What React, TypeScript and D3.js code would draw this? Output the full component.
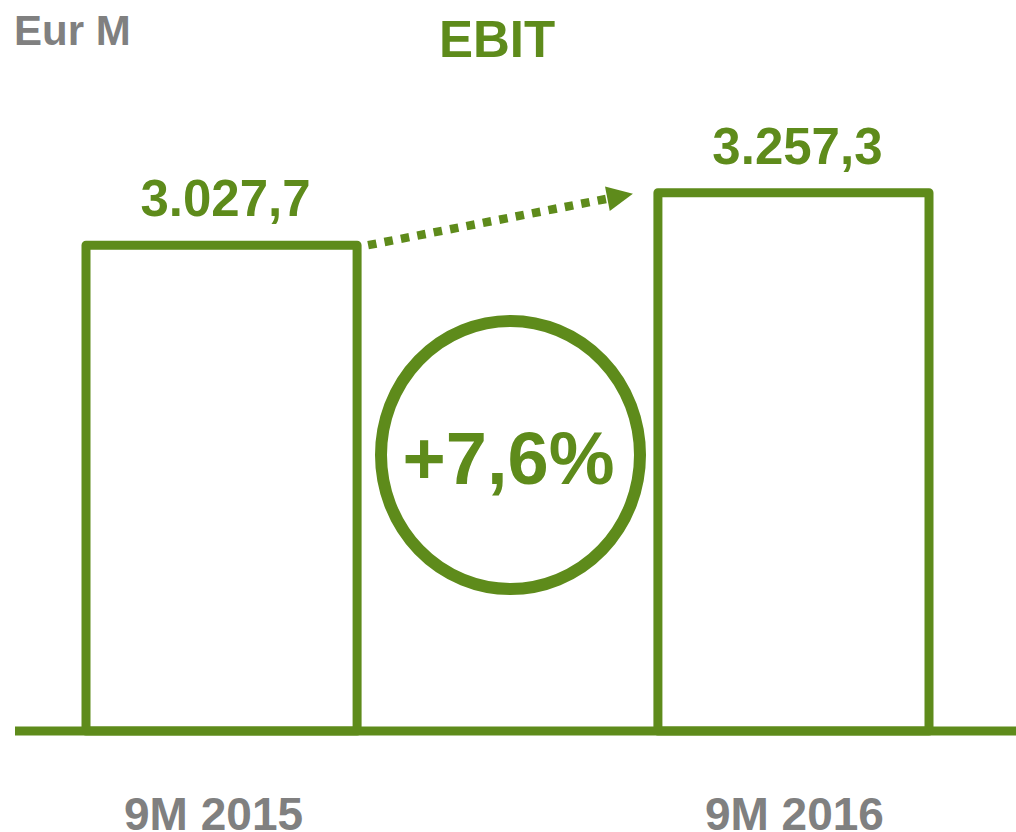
import React, { useRef, useEffect } from "react";
import * as d3 from "d3";

const categories = ["9M 2015", "9M 2016"];
const ebitValues = [3027.7, 3257.3];
const unitLabel = "Eur M";
const chartTitle = "EBIT";

const GREEN = "#5e8b1b";
const GREY = "#808080";
const FONT = "'Liberation Sans', Arial, sans-serif";

const App = () => {
  const svgRef = useRef<SVGSVGElement>(null);

  var width = 1016;
  var height = 832;

  useEffect(() => {
    var svg = d3.select(svgRef.current);
    svg.selectAll("*").remove();

    // italian style numbers: 3.027,7
    var it = d3.formatLocale({ decimal: ",", thousands: ".", grouping: [3], currency: ["€", ""] });
    var fmt = it.format(",.1f");

    var x = d3.scaleBand().domain(categories).range([86, 929]).paddingInner(0.526).paddingOuter(0);
    var y = d3.scaleLinear().domain([900, 3300]).range([731, 183]);
    var bw = x.bandwidth();

    // unit + title
    svg.append("text")
      .attr("x", 14).attr("y", 45)
      .attr("font-family", FONT).attr("font-weight", "bold")
      .attr("font-size", 42).attr("fill", GREY)
      .text(unitLabel);

    svg.append("text")
      .attr("x", 497).attr("y", 57)
      .attr("text-anchor", "middle")
      .attr("font-family", FONT).attr("font-weight", "bold")
      .attr("font-size", 51).attr("fill", GREEN)
      .text(chartTitle);

    // bars (outline only)
    svg.selectAll(".bar")
      .data(ebitValues)
      .enter()
      .append("rect")
      .attr("class", "bar")
      .attr("x", (d, i) => x(categories[i])!)
      .attr("y", (d) => y(d))
      .attr("width", bw)
      .attr("height", (d) => y.range()[0] - y(d))
      .attr("fill", "white")
      .attr("stroke", GREEN)
      .attr("stroke-width", 9)
      .attr("stroke-linejoin", "round");

    // base line
    svg.append("line")
      .attr("x1", 15).attr("x2", width)
      .attr("y1", y.range()[0]).attr("y2", y.range()[0])
      .attr("stroke", GREEN)
      .attr("stroke-width", 9);

    // value labels
    svg.selectAll(".bar-value")
      .data(ebitValues)
      .enter()
      .append("text")
      .attr("class", "bar-value")
      .attr("x", (d, i) => x(categories[i])! + bw / 2 + 4)
      .attr("y", (d) => y(d) - 29)
      .attr("text-anchor", "middle")
      .attr("font-family", FONT).attr("font-weight", "bold")
      .attr("font-size", 51).attr("fill", GREEN)
      .text((d) => fmt(d));

    // category labels
    svg.selectAll(".cat")
      .data(categories)
      .enter()
      .append("text")
      .attr("class", "cat")
      .attr("x", (d, i) => x(d)! + bw / 2 + (i === 0 ? -8 : 1))
      .attr("y", 830)
      .attr("text-anchor", "middle")
      .attr("font-family", FONT).attr("font-weight", "bold")
      .attr("font-size", 46).attr("fill", GREY)
      .text((d) => d);

    // dotted arrow from bar 1 top to bar 2 top
    var x0 = x(categories[0])! + bw + 11;
    var y0 = y(ebitValues[0]);
    var x1 = x(categories[1])! - 25;
    var y1 = y(ebitValues[1]) + 1;
    var dx = x1 - x0, dy = y1 - y0;
    var len = Math.sqrt(dx * dx + dy * dy);
    var ux = dx / len, uy = dy / len;
    var headLen = 26, headHalf = 12.5;
    var bx = x1 - ux * headLen, by = y1 - uy * headLen;

    svg.append("line")
      .attr("x1", x0).attr("y1", y0)
      .attr("x2", bx + ux * 2).attr("y2", by + uy * 2)
      .attr("stroke", GREEN)
      .attr("stroke-width", 8.5)
      .attr("stroke-dasharray", "8.5 8.2");

    svg.append("polygon")
      .attr("points", [
        [x1, y1],
        [bx - uy * headHalf, by + ux * headHalf],
        [bx + uy * headHalf, by - ux * headHalf],
      ].map((p) => p.join(",")).join(" "))
      .attr("fill", GREEN);

    // growth circle
    var growth = (ebitValues[1] / ebitValues[0] - 1) * 100;
    var cx = (x(categories[0])! + bw + x(categories[1])!) / 2 + 3;

    svg.append("ellipse")
      .attr("cx", cx).attr("cy", 455)
      .attr("rx", 129.5).attr("ry", 134)
      .attr("fill", "none")
      .attr("stroke", GREEN)
      .attr("stroke-width", 12);

    svg.append("text")
      .attr("x", cx - 2).attr("y", 484)
      .attr("text-anchor", "middle")
      .attr("font-family", FONT).attr("font-weight", "bold")
      .attr("font-size", 74).attr("fill", GREEN)
      .text("+" + it.format(".1f")(growth) + "%");
  }, []);

  return (
    <div style={{ position: "absolute", left: 0, top: 0 }}>
      <svg ref={svgRef} width={width} height={height} style={{ display: "block", background: "white" }}></svg>
    </div>
  );
};

export default App;
